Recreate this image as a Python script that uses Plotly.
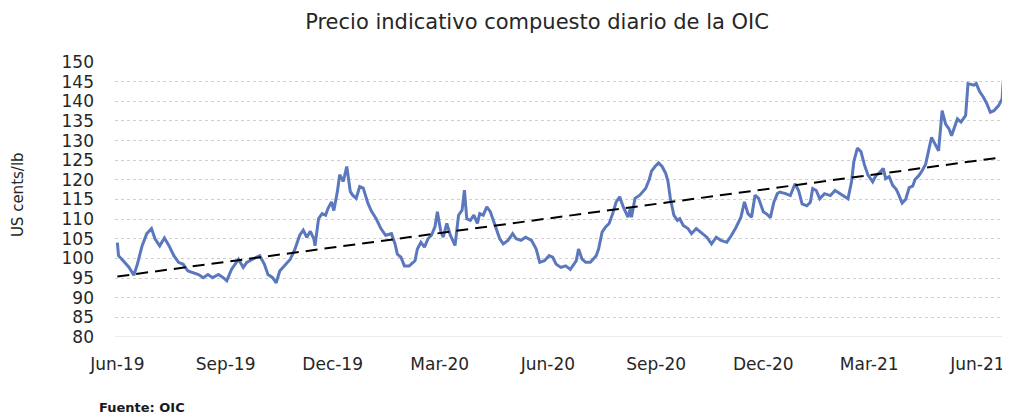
import plotly.graph_objects as go

title_text = "Precio indicativo compuesto diario de la OIC"
y_title = "US cents/lb"
source_text = "<b>Fuente: OIC</b>"

dates = [
    "2019-06-01", "2019-06-02", "2019-06-06", "2019-06-11", "2019-06-15", "2019-06-18", "2019-06-22",
    "2019-06-26", "2019-06-30", "2019-07-03", "2019-07-07", "2019-07-11", "2019-07-15", "2019-07-19",
    "2019-07-23", "2019-07-27", "2019-07-31", "2019-08-04", "2019-08-09", "2019-08-13", "2019-08-17",
    "2019-08-21", "2019-08-26", "2019-08-30", "2019-09-02", "2019-09-06", "2019-09-12", "2019-09-16",
    "2019-09-19", "2019-09-24", "2019-09-30", "2019-10-04", "2019-10-07", "2019-10-11", "2019-10-14",
    "2019-10-17", "2019-10-21", "2019-10-26", "2019-10-30", "2019-11-03", "2019-11-06", "2019-11-09",
    "2019-11-12", "2019-11-15", "2019-11-16", "2019-11-19", "2019-11-22", "2019-11-25", "2019-11-27",
    "2019-11-30", "2019-12-02", "2019-12-05", "2019-12-07", "2019-12-10", "2019-12-13", "2019-12-16",
    "2019-12-18", "2019-12-21", "2019-12-24", "2019-12-27", "2019-12-31",
    "2020-01-03", "2020-01-07", "2020-01-11", "2020-01-15", "2020-01-20", "2020-01-23", "2020-01-25",
    "2020-01-28", "2020-01-31", "2020-02-04", "2020-02-09", "2020-02-11", "2020-02-14", "2020-02-17",
    "2020-02-20", "2020-02-23", "2020-02-26", "2020-02-28", "2020-03-02", "2020-03-04", "2020-03-07",
    "2020-03-10", "2020-03-14", "2020-03-17", "2020-03-20", "2020-03-22", "2020-03-24", "2020-03-27",
    "2020-03-30", "2020-04-02", "2020-04-04", "2020-04-07", "2020-04-10", "2020-04-13", "2020-04-17",
    "2020-04-21", "2020-04-24", "2020-04-28", "2020-05-02", "2020-05-05", "2020-05-09", "2020-05-13",
    "2020-05-18", "2020-05-22", "2020-05-25", "2020-05-29", "2020-06-02", "2020-06-05", "2020-06-08",
    "2020-06-12", "2020-06-16", "2020-06-20", "2020-06-25", "2020-06-27", "2020-06-30", "2020-07-03",
    "2020-07-07", "2020-07-12", "2020-07-14", "2020-07-17", "2020-07-20", "2020-07-23", "2020-07-26",
    "2020-07-29", "2020-08-01", "2020-08-04", "2020-08-08", "2020-08-10", "2020-08-11", "2020-08-14",
    "2020-08-18", "2020-08-23", "2020-08-26", "2020-08-28", "2020-08-31", "2020-09-03", "2020-09-06",
    "2020-09-09", "2020-09-11", "2020-09-13", "2020-09-16", "2020-09-19", "2020-09-21", "2020-09-24",
    "2020-09-28", "2020-10-01", "2020-10-05", "2020-10-09", "2020-10-14", "2020-10-18", "2020-10-22",
    "2020-10-26", "2020-10-31", "2020-11-04", "2020-11-08", "2020-11-12", "2020-11-15", "2020-11-18",
    "2020-11-21", "2020-11-24", "2020-11-27", "2020-12-01", "2020-12-04", "2020-12-07", "2020-12-10",
    "2020-12-13", "2020-12-15", "2020-12-20", "2020-12-24", "2020-12-28", "2020-12-31",
    "2021-01-03", "2021-01-07", "2021-01-10", "2021-01-12", "2021-01-15", "2021-01-18", "2021-01-22",
    "2021-01-27", "2021-01-31", "2021-02-04", "2021-02-08", "2021-02-11", "2021-02-14", "2021-02-16",
    "2021-02-19", "2021-02-22", "2021-02-25", "2021-02-28", "2021-03-04", "2021-03-07", "2021-03-09",
    "2021-03-13", "2021-03-15", "2021-03-18", "2021-03-21", "2021-03-24", "2021-03-26", "2021-03-29",
    "2021-04-01", "2021-04-04", "2021-04-07", "2021-04-09", "2021-04-12", "2021-04-15", "2021-04-18",
    "2021-04-21", "2021-04-23", "2021-04-26", "2021-04-29", "2021-05-02", "2021-05-05", "2021-05-08",
    "2021-05-10", "2021-05-15", "2021-05-18", "2021-05-22", "2021-05-24", "2021-05-29", "2021-05-31",
    "2021-06-03", "2021-06-06", "2021-06-09", "2021-06-12", "2021-06-15", "2021-06-19", "2021-06-22",
    "2021-06-23", "2021-06-26",
]

prices = [
    104.0, 100.7, 99.4, 97.7, 95.7, 98.5, 103.2,
    106.3, 107.6, 105.0, 103.2, 105.2, 103.2, 100.7,
    99.0, 98.5, 96.8, 96.4, 95.9, 95.1, 95.9,
    95.1, 95.9, 95.1, 94.3, 97.2, 99.8, 97.7,
    99.0, 99.8, 100.7, 98.5, 95.9, 95.1, 93.8,
    96.8, 98.2, 99.8, 102.4, 105.9, 107.2, 105.4,
    106.9, 105.0, 103.2, 110.1, 111.4, 111.0, 112.7,
    114.4, 112.2, 117.0, 121.3, 119.6, 123.4, 117.0,
    116.1, 115.3, 118.3, 117.9, 114.0,
    112.0, 110.1, 107.6, 105.9, 106.3, 103.7, 101.1,
    100.3, 98.1, 98.1, 99.4, 102.4, 104.1, 102.9,
    105.0, 105.9, 108.1, 111.9, 106.7, 105.4, 108.9,
    105.9, 103.3, 111.0, 112.3, 117.4, 110.1, 109.7,
    111.0, 108.9, 111.4, 111.0, 113.1, 111.9, 108.4,
    105.0, 103.7, 104.6, 106.3, 105.0, 104.6, 105.4,
    104.6, 102.4, 99.0, 99.4, 100.7, 100.3, 98.5,
    97.7, 98.1, 97.2, 99.4, 102.4, 99.8, 99.0,
    99.0, 100.7, 102.4, 106.7, 108.0, 108.9, 111.4,
    114.4, 115.7, 113.1, 110.5, 112.7, 110.5, 115.3,
    116.1, 117.8, 120.0, 122.2, 123.4, 124.3, 123.4,
    121.7, 119.6, 115.3, 111.0, 109.7, 110.1, 108.4,
    107.6, 106.3, 107.6, 106.7, 105.4, 103.7, 105.4,
    104.6, 104.1, 105.9, 108.0, 110.5, 114.4, 111.4,
    110.5, 116.1, 115.3, 111.9, 111.3, 110.4, 114.3,
    116.5, 116.9, 116.5, 116.0, 119.0, 117.3,
    113.9, 113.4, 114.3, 117.8, 117.3, 115.2, 116.5,
    116.0, 117.3, 116.5, 115.6, 115.2, 119.5, 124.7,
    128.1, 127.2, 123.8, 121.2, 119.5, 121.2, 121.6,
    122.9, 120.3, 120.8, 118.6, 117.6, 116.3, 114.1,
    115.0, 118.0, 118.4, 120.1, 121.0, 122.3, 124.0,
    127.8, 130.8, 129.1, 127.4, 137.6, 134.2, 132.9,
    131.2, 135.5, 134.7, 136.4, 144.5, 144.1, 144.5,
    142.4, 141.1, 139.4, 137.2, 137.6, 138.9, 140.6,
    145.3, 144.5,
]

trend_dates = ["2019-06-01", "2021-06-26"]
trend_values = [95.4, 125.9]

tick_dates = ["2019-06-01", "2019-09-01", "2019-12-01", "2020-03-01", "2020-06-01",
              "2020-09-01", "2020-12-01", "2021-03-01", "2021-06-01"]
tick_labels = ["Jun-19", "Sep-19", "Dec-19", "Mar-20", "Jun-20",
               "Sep-20", "Dec-20", "Mar-21", "Jun-21"]

font_family = "'DejaVu Sans', Verdana, sans-serif"
text_color = "#262626"

fig = go.Figure()
fig.add_trace(go.Scatter(
    x=dates, y=prices, mode="lines",
    line=dict(color="#5B78BE", width=3),
    showlegend=False, hoverinfo="x+y",
))
fig.add_trace(go.Scatter(
    x=trend_dates, y=trend_values, mode="lines",
    line=dict(color="#000000", width=2, dash="12px,7px"),
    showlegend=False, hoverinfo="skip",
))

fig.update_layout(
    width=1002, height=409,
    margin=dict(l=107, r=2, t=54, b=80),
    paper_bgcolor="white", plot_bgcolor="white",
    font=dict(family=font_family, color=text_color),
    title=dict(text=title_text, xref="container", yref="container",
               x=0.528, xanchor="center", y=0.966, yanchor="middle",
               font=dict(size=21, color=text_color, family=font_family)),
    xaxis=dict(
        type="date", range=["2019-05-30", "2021-06-27"],
        tickvals=tick_dates, ticktext=tick_labels,
        showgrid=False, showline=False, zeroline=False, ticks="",
        tickfont=dict(size=17, color=text_color),
        ticklabelstandoff=15,
    ),
    yaxis=dict(
        range=[80, 150], dtick=5, tick0=80,
        showgrid=True, gridcolor="#CFCFCF", gridwidth=1, griddash="dot",
        zeroline=False, showline=False, ticks="",
        tickfont=dict(size=17, color=text_color),
        ticklabelstandoff=20,
    ),
    annotations=[
        dict(text=y_title, xref="paper", yref="paper", x=-0.1086, y=0.516,
             xanchor="center", yanchor="middle", textangle=-90, showarrow=False,
             font=dict(size=15, color=text_color, family=font_family)),
        dict(text=source_text, xref="paper", yref="paper", x=-0.02, y=-0.258,
             xanchor="left", yanchor="middle", showarrow=False,
             font=dict(size=13, color="#1a1a1a", family=font_family)),
    ],
    shapes=[dict(type="line", xref="paper", yref="y", x0=0, x1=1, y0=80, y1=80,
                 line=dict(color="#D9D9D9", width=1))],
)

fig.write_html("out.html")
